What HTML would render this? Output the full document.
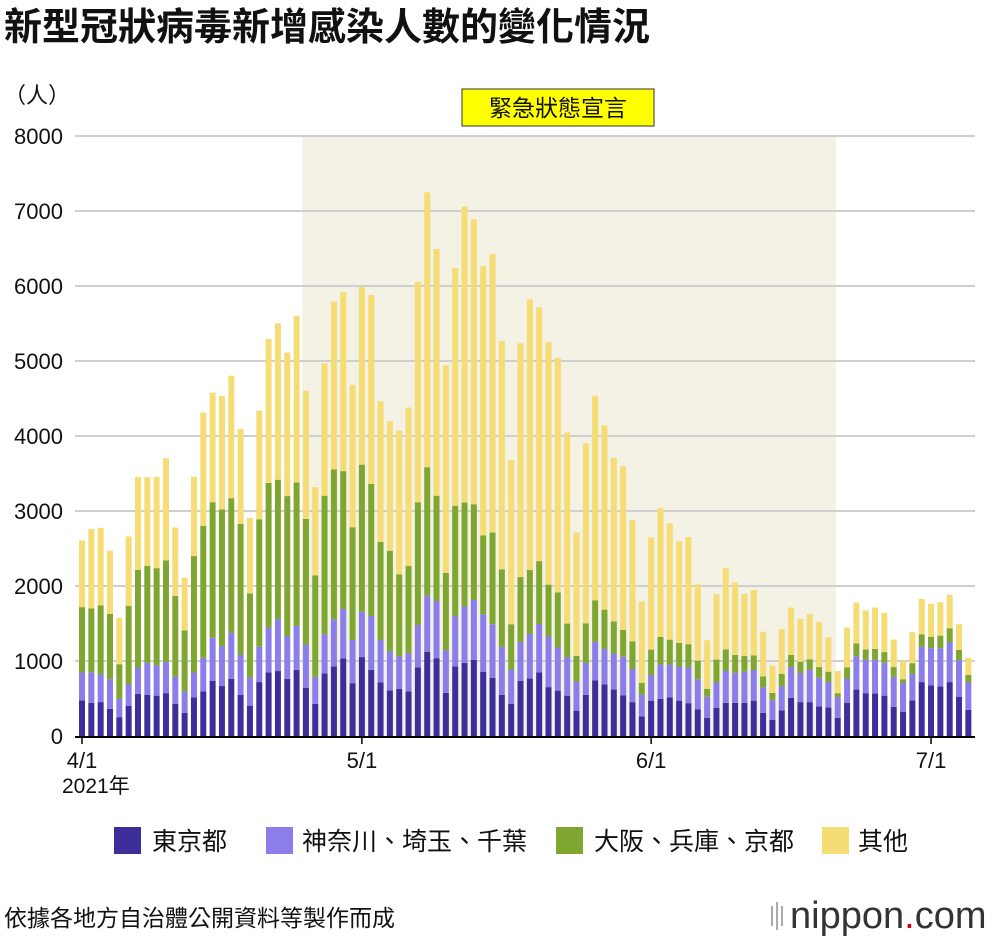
<!DOCTYPE html>
<html><head><meta charset="utf-8">
<style>
body{margin:0;background:#fff;font-family:"Liberation Sans","Noto Sans CJK TC",sans-serif;}
#wrap{position:relative;width:1000px;height:938px;overflow:hidden;}
</style></head>
<body>
<div id="wrap">
<svg id="chart" width="1000" height="938" xmlns="http://www.w3.org/2000/svg">
<text x="4" y="40" font-size="38" font-weight="bold" fill="#111" font-family="Liberation Sans,Noto Sans CJK TC,sans-serif">新型冠狀病毒新增感染人數的變化情況</text>
<text x="4" y="103" font-size="22" fill="#111" font-family="Liberation Sans,Noto Sans CJK TC,sans-serif">（人）</text>
<g id="shade"></g>
<g id="grid"></g>
<g id="bars"></g>
<g id="xlabels"></g>
<rect x="462" y="89" width="192" height="37" fill="#ffff00" stroke="#333" stroke-width="1"/>
<text x="558" y="116" font-size="23" text-anchor="middle" fill="#111" font-family="Liberation Sans,Noto Sans CJK TC,sans-serif">緊急狀態宣言</text>
<text x="62" y="793" font-size="21" fill="#111" font-family="Liberation Sans,Noto Sans CJK TC,sans-serif">2021年</text>
<g id="legend" font-size="25" font-family="Liberation Sans,Noto Sans CJK TC,sans-serif" fill="#111">
<g><rect x="114" y="827" width="27" height="27" fill="#3c2f9b"/><text x="152" y="850">東京都</text></g>
<g><rect x="266" y="827" width="27" height="27" fill="#8b7eea"/><text x="302" y="850">神奈川、埼玉、千葉</text></g>
<g><rect x="556" y="827" width="27" height="27" fill="#7fa630"/><text x="594" y="850">大阪、兵庫、京都</text></g>
<g><rect x="822" y="827" width="27" height="27" fill="#f6dc74"/><text x="858" y="850">其他</text></g>
</g>
<text x="4" y="926" font-size="23" fill="#111" font-family="Liberation Sans,Noto Sans CJK TC,sans-serif">依據各地方自治體公開資料等製作而成</text>
<g>
<rect x="771" y="906" width="2" height="20" fill="#aaa"/><rect x="776" y="902" width="2" height="28" fill="#aaa"/><rect x="781" y="906" width="2" height="20" fill="#aaa"/>
<text x="790" y="928" font-size="38" fill="#333" font-family="Liberation Sans,sans-serif">nippon<tspan fill="#d0021b">.</tspan>com</text>
</g>
</svg>
</div>
<script>
const tokyo=[476,443,452,362,252,400,562,547,538,571,428,309,514,595,733,666,762,547,405,719,847,866,762,881,643,428,833,928,1033,704,1052,881,714,609,628,595,914,1123,1038,576,928,976,1014,857,776,547,428,733,766,847,652,605,538,338,547,743,690,619,543,452,262,471,495,514,471,438,357,243,376,443,443,443,471,309,214,343,509,452,452,395,381,243,443,619,571,566,538,390,324,476,719,676,662,719,524,348];
const kanto=[371,405,367,395,243,286,352,428,400,414,362,286,333,447,576,533,614,533,376,471,600,690,571,585,576,362,524,628,662,576,605,719,566,519,433,514,566,752,762,566,671,752,800,766,714,643,457,524,595,647,676,576,514,386,428,514,471,481,514,443,295,343,457,438,457,481,400,281,338,424,400,414,409,343,271,319,409,390,433,381,338,276,324,443,447,452,438,400,381,352,471,495,509,528,490,367];
const kansai=[871,852,923,871,462,1047,1300,1295,1300,1357,1076,814,1552,1761,1809,1823,1795,1747,1119,1699,1928,1861,1866,1914,1676,1352,1847,1999,1837,1504,1961,1761,1309,1342,1095,1157,1637,1709,1404,1033,1471,1385,1276,1052,1223,1033,605,862,852,838,690,733,447,343,528,552,524,428,357,367,152,338,371,333,314,305,248,105,305,286,238,209,195,143,90,167,162,148,138,143,138,52,148,171,138,143,143,129,52,143,167,152,167,190,133,100];
const other=[890,1062,1033,843,619,928,1238,1180,1219,1361,914,700,1057,1509,1461,1514,1633,1266,1009,1452,1918,2085,1914,2223,1709,1176,1766,2237,2385,1899,2370,2518,1875,1728,1914,2113,2937,3665,3289,2766,3170,3946,3798,3589,3713,3042,2190,3118,3608,3384,3232,3127,2547,1647,2399,2727,2456,2180,2185,1618,1085,1495,1718,1552,1352,1428,1019,647,871,1090,966,828,871,595,362,595,633,571,605,605,457,295,533,547,519,552,524,367,243,414,471,438,447,447,343,228];
const yTicks=[0,1000,2000,3000,4000,5000,6000,7000,8000];
const xTickIdx=[0,30,61,91];
const xTickLabels=['4/1','5/1','6/1','7/1'];
const emergencyStart=23.6, emergencyEnd=80.8; // day indices (4/25 - 6/20)

const NS='http://www.w3.org/2000/svg';
const y0=736, yPer=600/8000, x0=82, dx=9.33, bw=6;
const yS=v=>y0-v*yPer;
const xS=i=>x0+i*dx;
function mk(tag,attrs,parent){const e=document.createElementNS(NS,tag);for(const k in attrs)e.setAttribute(k,attrs[k]);parent.appendChild(e);return e;}
const shade=document.getElementById('shade');
const sh=mk('rect',{x:xS(emergencyStart),y:yS(8000),width:xS(emergencyEnd)-xS(emergencyStart),height:600,fill:'#f3f2e4'},shade);


const grid=document.getElementById('grid');
yTicks.forEach(t=>{
  if(t>0){const l=mk('line',{x1:75,x2:975,y1:yS(t),y2:yS(t),stroke:'#cfcfcf','stroke-width':2},grid);
  
  }
  const tx=mk('text',{x:63,y:yS(t)+8,'text-anchor':'end','font-size':22,fill:'#111','font-family':'Liberation Sans,sans-serif'},grid);
  tx.textContent=t;
  
  
});
const bars=document.getElementById('bars');
const series=[tokyo,kanto,kansai,other], cols=['#3c2f9b','#8b7eea','#7fa630','#f6dc74'], names=['tokyo','kanto','kansai','other'];
for(let i=0;i<tokyo.length;i++){
  let base=0;
  series.forEach((s,k)=>{
    const v=s[i];
    const r=mk('rect',{x:xS(i)-bw/2,y:yS(base+v),width:bw,height:v*yPer,fill:cols[k]},bars);
    
    
    base+=v;
  });
}
const ax=mk('line',{x1:75,x2:975,y1:y0+1,y2:y0+1,stroke:'#000','stroke-width':2},bars);


const xl=document.getElementById('xlabels');
xTickIdx.forEach((d,j)=>{
  const t=mk('line',{x1:xS(d),x2:xS(d),y1:y0,y2:y0+8,stroke:'#000','stroke-width':1.5},xl);
  
  
  const tx=mk('text',{x:xS(d),y:768,'text-anchor':'middle','font-size':22,fill:'#111','font-family':'Liberation Sans,sans-serif'},xl);
  tx.textContent=xTickLabels[j];
  
  
});
</script>
</body></html>
